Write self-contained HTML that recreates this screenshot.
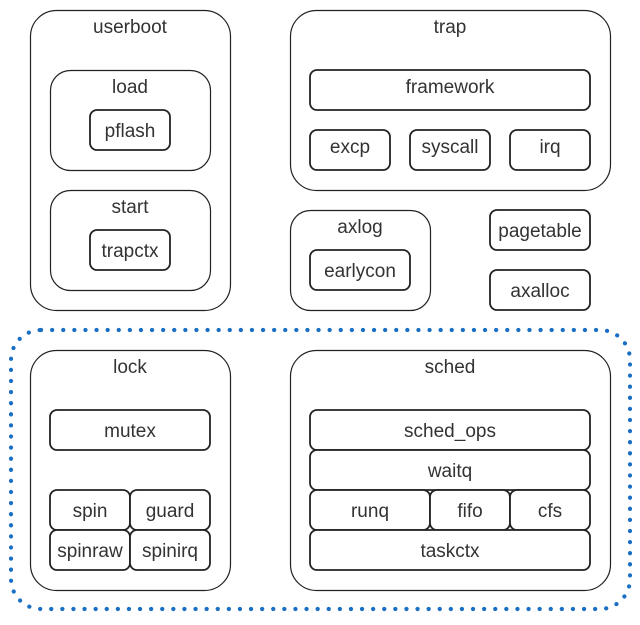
<!DOCTYPE html>
<html><head><meta charset="utf-8"><style>
html,body{margin:0;padding:0;background:#fff;}
svg text{font-family:"Liberation Sans",sans-serif;font-size:19px;fill:#333;text-anchor:middle;}
</style></head><body>
<svg width="640" height="620" viewBox="0 0 640 620" xmlns="http://www.w3.org/2000/svg">
<g fill="#fff" stroke="#222" stroke-width="1.2">
<rect x="30.5" y="10.5" width="200" height="300" rx="26"/>
<rect x="50.5" y="70.5" width="160" height="100" rx="20"/>
<rect x="50.5" y="190.5" width="160" height="100" rx="20"/>
<rect x="290.5" y="10.5" width="320" height="180" rx="26"/>
<rect x="290.5" y="210.5" width="140" height="100" rx="20"/>
<rect x="30.5" y="350.5" width="200" height="240" rx="26"/>
<rect x="290.5" y="350.5" width="320" height="240" rx="26"/>
</g>
<g fill="#fff" stroke="#222" stroke-width="1.8">
<rect x="90" y="110" width="80" height="40" rx="7"/>
<rect x="90" y="230" width="80" height="40" rx="7"/>
<rect x="310" y="70" width="280" height="40" rx="7"/>
<rect x="310" y="130" width="80" height="40" rx="7"/>
<rect x="410" y="130" width="80" height="40" rx="7"/>
<rect x="510" y="130" width="80" height="40" rx="7"/>
<rect x="310" y="250" width="100" height="40" rx="7"/>
<rect x="490" y="210" width="100" height="40" rx="7"/>
<rect x="490" y="270" width="100" height="40" rx="7"/>
<rect x="50" y="410" width="160" height="40" rx="7"/>
<rect x="50" y="490" width="80" height="40" rx="7"/>
<rect x="130" y="490" width="80" height="40" rx="7"/>
<rect x="50" y="530" width="80" height="40" rx="7"/>
<rect x="130" y="530" width="80" height="40" rx="7"/>
<rect x="310" y="410" width="280" height="40" rx="7"/>
<rect x="310" y="450" width="280" height="40" rx="7"/>
<rect x="310" y="490" width="120" height="40" rx="7"/>
<rect x="430" y="490" width="80" height="40" rx="7"/>
<rect x="510" y="490" width="80" height="40" rx="7"/>
<rect x="310" y="530" width="280" height="40" rx="7"/>
</g>
<rect x="11" y="330" width="619" height="279" rx="30" fill="none" stroke="#1a6fc4" stroke-width="4.2" stroke-dasharray="0.1 11" stroke-linecap="round"/>
<text x="130" y="33">userboot</text>
<text x="130" y="93">load</text>
<text x="130" y="137">pflash</text>
<text x="130" y="213">start</text>
<text x="130" y="257">trapctx</text>
<text x="450" y="33">trap</text>
<text x="450" y="93">framework</text>
<text x="350" y="153">excp</text>
<text x="450" y="153">syscall</text>
<text x="550" y="153">irq</text>
<text x="360" y="233">axlog</text>
<text x="360" y="277">earlycon</text>
<text x="540" y="237">pagetable</text>
<text x="540" y="297">axalloc</text>
<text x="130" y="373">lock</text>
<text x="130" y="437">mutex</text>
<text x="90" y="517">spin</text>
<text x="170" y="517">guard</text>
<text x="90" y="557">spinraw</text>
<text x="170" y="557">spinirq</text>
<text x="450" y="373">sched</text>
<text x="450" y="437">sched_ops</text>
<text x="450" y="477">waitq</text>
<text x="370" y="517">runq</text>
<text x="470" y="517">fifo</text>
<text x="550" y="517">cfs</text>
<text x="450" y="557">taskctx</text>
</svg>
</body></html>
